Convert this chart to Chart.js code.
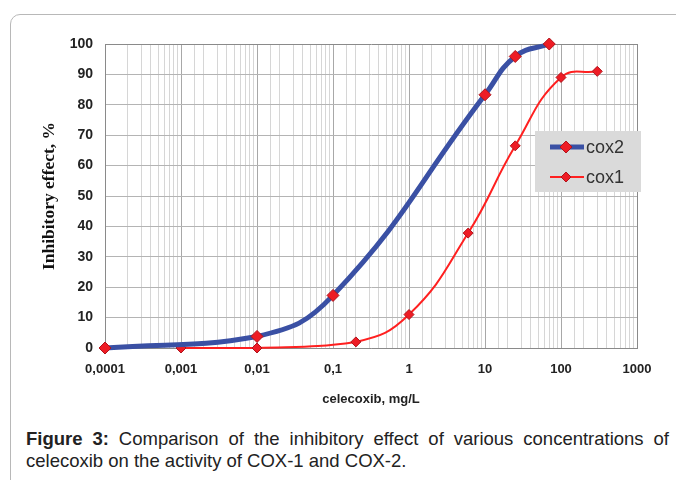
<!DOCTYPE html>
<html>
<head>
<meta charset="utf-8">
<script src="https://cdn.jsdelivr.net/npm/chart.js@4.4.0/dist/chart.umd.min.js"></script>
<style>
    html, body { margin: 0; padding: 0; background: #fff; width: 676px; height: 480px; overflow: hidden; }
    .frame { position: absolute; left: 10px; top: 14px; width: 700px; height: 500px; border: 1px solid #b8b8b8; border-radius: 10px; }
    .chart-box { position: absolute; left: 0; top: 0; width: 676px; height: 420px; }
    .caption { position: absolute; left: 26px; top: 428px; width: 643px; font: 18.5px "Liberation Sans", Arial, sans-serif; color: #222; line-height: 22px; }
    .caption .first { text-align: justify; text-align-last: justify; white-space: nowrap; }
</style>
</head>
<body>
<div class="frame"></div>
<div class="chart-box"><canvas id="inhibitionChart" width="676" height="420"></canvas></div>
<div class="caption">
    <div class="first"><b>Figure 3:</b> Comparison of the inhibitory effect of various concentrations of</div>
    <div>celecoxib on the activity of COX-1 and COX-2.</div>
</div>

<script>
// Data
const cox2Conc = [0.0001, 0.01, 0.1, 10, 25, 70];
const cox2Effect = [0, 3.8, 17.3, 83.3, 95.9, 100];

const cox1Conc = [0.001, 0.01, 0.2, 1, 6, 25, 100, 300];
const cox1Effect = [0, 0, 2, 11, 37.8, 66.5, 89, 91];

const xRange = [0.0001, 1000];
const yTicks = [0, 10, 20, 30, 40, 50, 60, 70, 80, 90, 100];

function toPoints(xs, ys) {
    return xs.map((x, i) => ({ x: x, y: ys[i] }));
}

function isDecade(v) {
    const l = Math.log10(v);
    return Math.abs(l - Math.round(l)) < 1e-6;
}

// Grey legend box inside the plot, like the original
const boxLegend = {
    id: 'boxLegend',
    afterDraw(chart) {
        const ctx = chart.ctx;
        const area = chart.chartArea;
        const left = area.right - 102;
        const top = area.top + 87;
        ctx.save();
        ctx.fillStyle = '#dadada';
        ctx.fillRect(left, top, 106, 61);
        chart.data.datasets.forEach((ds, i) => {
            const y = top + 16 + i * 30;
            ctx.strokeStyle = ds.borderColor;
            ctx.lineWidth = ds.borderWidth;
            ctx.beginPath();
            ctx.moveTo(left + 15, y);
            ctx.lineTo(left + 49, y);
            ctx.stroke();
            // diamond marker
            const r = ds.pointRadius;
            ctx.fillStyle = ds.pointBackgroundColor;
            ctx.strokeStyle = ds.pointBorderColor;
            ctx.lineWidth = 1;
            ctx.beginPath();
            ctx.moveTo(left + 31, y - r);
            ctx.lineTo(left + 31 + r, y);
            ctx.lineTo(left + 31, y + r);
            ctx.lineTo(left + 31 - r, y);
            ctx.closePath();
            ctx.fill();
            ctx.stroke();
            ctx.fillStyle = '#333';
            ctx.font = '18px "Liberation Sans", Arial, sans-serif';
            ctx.textBaseline = 'middle';
            ctx.fillText(ds.label, left + 51, y + 1);
        });
        ctx.restore();
    }
};

const ctx = document.getElementById('inhibitionChart').getContext('2d');

new Chart(ctx, {
    type: 'line',
    data: {
        datasets: [{
            label: 'cox2',
            data: toPoints(cox2Conc, cox2Effect),
            borderColor: '#3a50a4',
            borderWidth: 5,
            tension: 0.45,
            pointStyle: 'rectRot',
            pointRadius: 6,
            pointBackgroundColor: '#ee1c25',
            pointBorderColor: '#b0141c',
            pointBorderWidth: 1,
            clip: false
        }, {
            label: 'cox1',
            data: toPoints(cox1Conc, cox1Effect),
            borderColor: '#ff2020',
            borderWidth: 2,
            tension: 0.45,
            pointStyle: 'rectRot',
            pointRadius: 5,
            pointBackgroundColor: '#ee1c25',
            pointBorderColor: '#b0141c',
            pointBorderWidth: 1,
            clip: false
        }]
    },
    options: {
        responsive: false,
        animation: false,
        layout: {
            padding: { top: 44, right: 39, left: 0, bottom: 0 }
        },
        plugins: {
            legend: { display: false },
            tooltip: { enabled: false }
        },
        scales: {
            x: {
                type: 'logarithmic',
                min: xRange[0],
                max: xRange[1],
                afterFit: function(scale) { scale.height = 72; },
                grid: {
                    drawTicks: false,
                    color: function(c) {
                        const v = c.tick.value;
                        if (v >= xRange[1]) return '#8a8a8a';
                        return isDecade(v) ? '#a8a8a8' : '#d6d6d6';
                    }
                },
                border: { color: '#8a8a8a' },
                ticks: {
                    autoSkip: false,
                    maxRotation: 0,
                    padding: 14,
                    color: '#222',
                    font: { family: '"Liberation Sans", Arial, sans-serif', size: 13, weight: 'bold' },
                    callback: function(value) {
                        if (!isDecade(value)) return '';
                        return String(Number(value.toPrecision(6))).replace('.', ',');
                    }
                },
                title: {
                    display: true,
                    text: 'celecoxib, mg/L',
                    color: '#222',
                    font: { family: '"Liberation Sans", Arial, sans-serif', size: 13, weight: 'bold' },
                    padding: { top: 0, bottom: 13 }
                }
            },
            y: {
                min: 0,
                max: 100,
                afterFit: function(scale) { scale.width = 105; },
                afterBuildTicks: function(scale) {
                    scale.ticks = yTicks.map(v => ({ value: v }));
                },
                grid: {
                    drawTicks: false,
                    color: function(c) {
                        return c.tick.value >= 100 ? '#8a8a8a' : '#b4b4b4';
                    }
                },
                border: { color: '#8a8a8a' },
                ticks: {
                    padding: 12,
                    color: '#222',
                    font: { family: '"Liberation Sans", Arial, sans-serif', size: 14, weight: 'bold' }
                },
                title: {
                    display: true,
                    text: 'Inhibitory effect, %',
                    color: '#111',
                    font: { family: '"Liberation Serif", "Times New Roman", serif', size: 17.5, weight: 'bold' },
                    padding: { top: 39, bottom: 0 }
                }
            }
        }
    },
    plugins: [boxLegend]
});
</script>
</body>
</html>
